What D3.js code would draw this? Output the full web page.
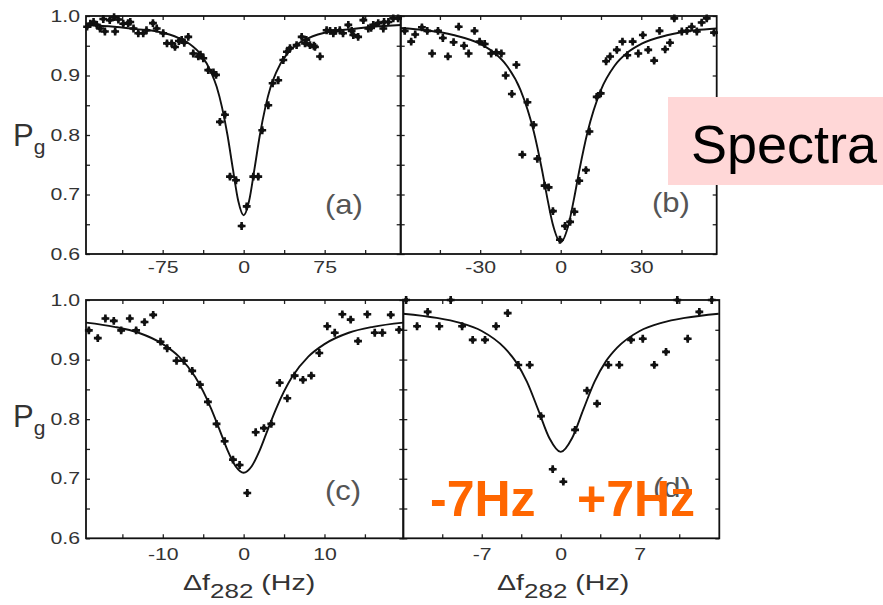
<!DOCTYPE html>
<html><head><meta charset="utf-8">
<script src="https://cdn.jsdelivr.net/npm/d3@7"></script>
<style>body{margin:0;background:#fff}svg{display:block}</style>
</head><body>
<svg id="chart" width="883" height="605"></svg>
<script>
// ---------- data ----------
const yTickVals = [0.6,0.65,0.7,0.75,0.8,0.85,0.9,0.95,1.0];
const yTickLabels = ["0.6","0.7","0.8","0.9","1.0"];

// panel (a)
const aTickVals = [-112.5,-75,-37.5,0,37.5,75,112.5];
const aTickLabels = [-75,0,75];
const aX = [-145,-142,-139,-136,-133,-130,-128.5,-124,-120,-119,-116,-111.5,-107,-105,-102,-97.6,-93,-90,-84,-80.5,-74.5,-71,-66.7,-63.6,-60,-57.4,-55,-51.3,-46.7,-42,-40,-37.4,-32.8,-28,-25.6,-22,-17.3,-12.7,-7.1,-1.9,2.8,8.9,13.5,17.2,22.8,26.8,32,36.7,40,42.9,49,53.7,56.8,58,61.4,65,66,70.7,76.8,80,83,85,89,92,96.9,100,101.5,106,110.8,115.4,118,120,124.6,129.3,130,134,138.5,143];
const aY = [0.982,0.987,0.99,0.985,0.979,0.995,0.974,0.993,0.998,0.974,0.994,0.987,0.988,0.99,0.979,0.971,0.971,0.976,0.988,0.979,0.971,0.954,0.954,0.948,0.958,0.96,0.955,0.965,0.937,0.932,0.935,0.929,0.909,0.905,0.901,0.822,0.834,0.73,0.724,0.647,0.68,0.73,0.73,0.808,0.85,0.887,0.892,0.926,0.94,0.946,0.951,0.965,0.954,0.96,0.951,0.95,0.948,0.932,0.976,0.975,0.971,0.975,0.976,0.971,0.985,0.975,0.968,0.965,0.993,0.979,0.98,0.985,0.988,0.979,0.99,0.99,0.996,0.996];
const aFitX = [-146,-120,-100,-80,-60,-50,-40,-30,-25,-20,-15,-10,-5,0,5,10,15,20,25,30,40,50,60,80,100,120,146];
const aFitY = [0.985,0.982,0.978,0.974,0.963,0.953,0.936,0.905,0.881,0.846,0.80,0.743,0.689,0.665,0.689,0.743,0.80,0.846,0.881,0.905,0.936,0.953,0.963,0.974,0.978,0.982,0.985];

// panel (b)
const bTickVals = [-45,-30,-15,0,15,30,45];
const bTickLabels = [-30,0,30];
const bX = [-58.1,-55.7,-54.2,-51.7,-49.7,-47.9,-45.7,-43.9,-42,-39.9,-38,-36,-34.3,-32.1,-30.2,-28.3,-25.9,-24,-22.1,-20.5,-18.2,-16.5,-14.3,-12.4,-10.1,-8.7,-6,-4.5,-2.9,-0.3,1.6,3.5,5.1,6.9,9.4,10.7,13.4,14.9,16.9,18.4,20.9,23,24.8,26.8,28.9,30.6,32.6,34.8,36.8,38.9,40.7,42.3,45.1,47,48.8,50.7,52.5,54.4,57.1];
const bY = [0.975,0.957,0.969,0.981,0.975,0.937,0.975,0.963,0.932,0.956,0.982,0.95,0.937,0.975,0.957,0.953,0.937,0.939,0.937,0.9,0.869,0.918,0.767,0.855,0.817,0.76,0.715,0.712,0.672,0.624,0.647,0.654,0.671,0.723,0.741,0.806,0.864,0.87,0.924,0.932,0.943,0.957,0.934,0.957,0.937,0.968,0.943,0.925,0.975,0.944,0.955,0.996,0.974,0.975,0.982,0.974,0.989,0.996,0.972];
const bFitX = [-60,-50,-40,-30,-25,-20,-15,-10,-7,-5,-3,0,3,5,7,10,15,20,25,30,40,50,58];
const bFitY = [0.980,0.976,0.968,0.953,0.939,0.916,0.876,0.805,0.742,0.694,0.651,0.62,0.651,0.694,0.742,0.805,0.876,0.916,0.939,0.953,0.968,0.976,0.979];

// panel (c)
const cTickVals = [-15,-10,-5,0,5,10,15];
const cTickLabels = [-10,0,10];
const cX = [-19.15,-18.04,-17.1,-16.06,-15.15,-14.08,-13.3,-12.26,-11.19,-10.28,-9.46,-8.3,-7.39,-6.36,-5.41,-4.42,-3.35,-2.35,-1.32,-0.5,0.45,1.49,2.51,3.42,4.46,5.4,6.31,7.34,8.37,9.36,10.35,11.27,12.21,13.24,14.15,15.3,16.22,17.16,18.2,19.23];
const cY = [0.949,0.936,0.969,0.965,0.949,0.969,0.949,0.963,0.975,0.93,0.919,0.898,0.898,0.881,0.858,0.829,0.792,0.763,0.732,0.723,0.676,0.778,0.785,0.792,0.861,0.835,0.873,0.866,0.873,0.911,0.956,0.945,0.976,0.967,0.931,0.976,0.945,0.945,0.975,0.95];
const cFitX = [-19.5,-16,-13,-10,-8,-6,-4,-3,-2,-1,0,1,2,3,4,6,8,10,13,16,19.75];
const cFitY = [0.962,0.955,0.945,0.926,0.905,0.871,0.817,0.783,0.748,0.721,0.71,0.721,0.748,0.783,0.817,0.871,0.905,0.926,0.945,0.955,0.962];

// panel (d)
const dTickVals = [-10.5,-7,-3.5,0,3.5,7,10.5];
const dTickLabels = [-7,0,7];
const dX = [-13.7,-12.73,-11.79,-10.76,-9.75,-8.74,-7.8,-6.71,-5.73,-4.7,-3.76,-2.75,-1.75,-0.71,0.23,1.27,2.33,3.22,4.22,5.19,6.23,7.27,8.29,9.33,10.33,11.25,12.28,13.38];
const dY = [1.0,0.956,0.98,0.956,1.0,0.956,0.933,0.933,0.956,0.978,0.891,0.891,0.805,0.716,0.695,0.782,0.848,0.826,0.891,0.891,0.933,0.935,0.891,0.913,1.0,0.935,0.98,1.0];
const dFitX = [-14,-11,-9,-7,-5,-4,-3,-2,-1,0,1,2,3,4,5,7,9,11,14];
const dFitY = [0.977,0.970,0.962,0.948,0.92,0.897,0.863,0.816,0.768,0.745,0.768,0.816,0.863,0.897,0.92,0.948,0.962,0.970,0.977];

// ---------- drawing ----------
const FONT = '"Liberation Sans", Arial, Helvetica, sans-serif';
const svg = d3.select('#chart');
svg.append('rect').attr('width',883).attr('height',605).attr('fill','#fff');

const panels = [
  {id:'a', x0:86, x1:400.7, y0:16, y1:254, xdom:[-146,145.4], tv:aTickVals, tl:aTickLabels, px:aX, py:aY, fx:aFitX, fy:aFitY, yl:true, pad:8, tag:'(a)', tx:325, ty:214},
  {id:'b', x0:400.7, x1:716.7, y0:16, y1:254, xdom:[-59.6,58.1], tv:bTickVals, tl:bTickLabels, px:bX, py:bY, fx:bFitX, fy:bFitY, yl:false, pad:8, tag:'(b)', tx:652, ty:212},
  {id:'c', x0:86, x1:403.3, y0:300, y1:538.3, xdom:[-19.5,19.75], tv:cTickVals, tl:cTickLabels, px:cX, py:cY, fx:cFitX, fy:cFitY, yl:true, pad:10, tag:'(c)', tx:325, ty:500},
  {id:'d', x0:403.3, x1:719.3, y0:300, y1:538.3, xdom:[-13.95,14.05], tv:dTickVals, tl:dTickLabels, px:dX, py:dY, fx:dFitX, fy:dFitY, yl:false, pad:10, tag:'(d)', tx:653, ty:497}
];

const defs = svg.append('defs');

function styleAxis(sel){
  sel.select('.domain').remove();
  sel.selectAll('.tick line').attr('stroke','#222').attr('stroke-width',1.3);
  sel.selectAll('.tick text').attr('font-family',FONT).attr('font-size',16).attr('fill','#333')
     .attr('transform','scale(1.33,1)');
}

panels.forEach(p => {
  const x = d3.scaleLinear().domain(p.xdom).range([p.x0,p.x1]);
  const y = d3.scaleLinear().domain([0.6,1.0]).range([p.y1,p.y0]);
  const g = svg.append('g');

  defs.append('clipPath').attr('id','clip-'+p.id).append('rect')
    .attr('x',p.x0).attr('y',p.y0).attr('width',p.x1-p.x0).attr('height',p.y1-p.y0);

  const isLab = d => p.tl.includes(d);
  g.append('g').attr('transform',`translate(0,${p.y1})`)
    .call(d3.axisBottom(x).tickValues(p.tv).tickSizeInner(-4).tickSizeOuter(0).tickPadding(p.pad)
      .tickFormat(d => isLab(d) ? String(d) : ''))
    .call(styleAxis);
  g.append('g').attr('transform',`translate(0,${p.y0})`)
    .call(d3.axisTop(x).tickValues(p.tv).tickSizeInner(-4).tickSizeOuter(0).tickFormat(''))
    .call(styleAxis);
  g.append('g').attr('transform',`translate(${p.x0},0)`)
    .call(d3.axisLeft(y).tickValues(yTickVals).tickSizeInner(-4).tickSizeOuter(0).tickPadding(4.5)
      .tickFormat(d => { const s = d.toFixed(1); return (p.yl && yTickLabels.includes(s) && Math.abs(d*10-Math.round(d*10))<1e-6) ? s : ''; }))
    .call(styleAxis);
  g.append('g').attr('transform',`translate(${p.x1},0)`)
    .call(d3.axisRight(y).tickValues(yTickVals).tickSizeInner(-4).tickSizeOuter(0).tickFormat(''))
    .call(styleAxis);

  // fit curve
  g.append('path')
    .datum(d3.zip(p.fx,p.fy))
    .attr('clip-path',`url(#clip-${p.id})`)
    .attr('fill','none').attr('stroke','#111').attr('stroke-width',1.9)
    .attr('d', d3.line().x(d=>x(d[0])).y(d=>y(d[1])).curve(d3.curveMonotoneX));

  // data points (blob-like markers)
  const pts = g.selectAll('g.pt').data(d3.zip(p.px,p.py)).join('g')
    .attr('class','pt')
    .attr('transform', d => `translate(${x(d[0])},${y(d[1])})`);
  pts.append('path').attr('d', d3.symbol(d3.symbolCross, 34)).attr('fill','#111');
  pts.append('circle').attr('r',2.3).attr('fill','#111');

  // border
  g.append('rect').attr('x',p.x0).attr('y',p.y0).attr('width',p.x1-p.x0).attr('height',p.y1-p.y0)
    .attr('fill','none').attr('stroke','#111').attr('stroke-width',1.8);

  // panel tag
  svg.append('text').attr('transform',`translate(${p.tx},${p.ty}) scale(1.15,1)`)
    .attr('font-family',FONT).attr('font-size',27).attr('fill','#555').text(p.tag);
});

// P_g labels
[146, 427].forEach(by => {
  const t = svg.append('text').attr('x',13).attr('y',by).attr('font-family',FONT).attr('fill','#333');
  t.append('tspan').attr('font-size',31).text('P');
  t.append('tspan').attr('font-size',21).attr('dy',8).text('g');
});

// x-axis titles
[183, 497].forEach(sx => {
  const t = svg.append('text').attr('transform',`translate(${sx},590) scale(1.3,1)`)
    .attr('font-family',FONT).attr('fill','#333');
  t.append('tspan').attr('font-size',22).text('\u0394f');
  t.append('tspan').attr('font-size',20).attr('dy',8).text('282');
  t.append('tspan').attr('font-size',22).attr('dy',-8).text('\u00a0(Hz)');
});

// overlay: "Spectra" box
svg.append('rect').attr('x',668).attr('y',97).attr('width',215).attr('height',88).attr('fill','#ffd7d7');
svg.append('text').attr('x',691).attr('y',163).attr('font-family',FONT).attr('font-size',54)
  .attr('fill','#000').text('Spectra');

// overlay: orange annotations
svg.append('text').attr('x',430).attr('y',516).attr('font-family',FONT).attr('font-weight','bold')
  .attr('font-size',50).attr('fill','#ff6600').text('-7Hz');
svg.append('text').attr('x',577).attr('y',516).attr('font-family',FONT).attr('font-weight','bold')
  .attr('font-size',50).attr('fill','#ff6600').text('+7Hz');
</script>
</body></html>
